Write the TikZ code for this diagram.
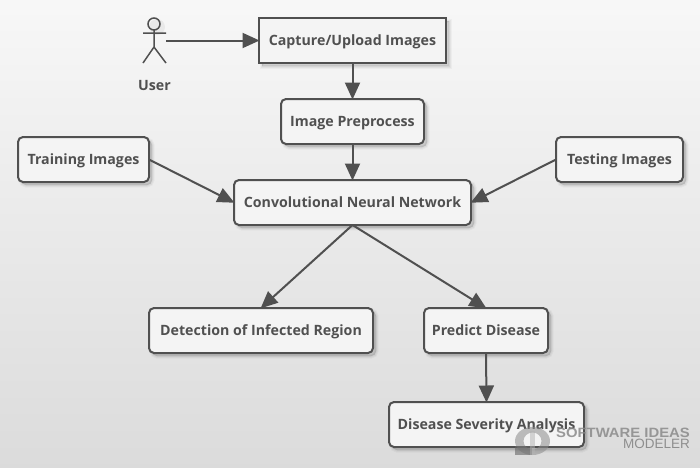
\documentclass[tikz,border=0pt]{standalone}
\usepackage{fontspec}
\setmainfont{Open Sans}
\newfontfamily\wmbold[FakeStretch=1.1]{Liberation Sans Bold}
\newfontfamily\wmreg{Liberation Sans}
\usetikzlibrary{arrows.meta,shadows}
\definecolor{ink}{HTML}{505050}
\definecolor{boxfill}{HTML}{F4F4F4}
\definecolor{wm}{HTML}{8A8A8A}
\tikzset{
  softshadow/.style={
    general shadow={fill=black,draw=black,line width=5pt,opacity=.03,shadow xshift=3pt,shadow yshift=-3pt},
    general shadow={fill=black,draw=black,line width=3pt,opacity=.04,shadow xshift=3pt,shadow yshift=-3pt},
    general shadow={fill=black,draw=black,line width=1pt,opacity=.05,shadow xshift=3pt,shadow yshift=-3pt}},
  boxbase/.style={softshadow,draw=ink,line width=2pt,fill=boxfill,text=ink,font=\bfseries\fontsize{14.2}{16}\selectfont,inner sep=0pt,outer sep=0pt,minimum height=45pt,anchor=center,text height=10pt,text depth=0pt},
  plainbox/.style={boxbase,sharp corners},
  roundbox/.style={boxbase,rounded corners=5pt},
  link/.style={draw=ink,line width=2pt,-{Triangle[length=17pt,width=15pt]},shorten >=-0.5pt},
  stick/.style={draw=ink,line width=1.5pt},
  lab/.style={text=ink,font=\bfseries\fontsize{14.2}{16}\selectfont,inner sep=0pt,text height=10pt,text depth=0pt}
}
\begin{document}
\begin{tikzpicture}[x=1pt,y=-1pt]
\useasboundingbox (0,0) rectangle (700,467);
\shade[top color=white!97!black,bottom color=white!86!black] (0,0) rectangle (700,467);
% actor
\fill[black,opacity=.05] (157,27) circle (8);
\draw[stick] (154,24) circle (6);
\draw[stick] (154,30) -- (154,47) (143,33) -- (166,33) (154,47) -- (143,63) (154,47) -- (166,63);
\node[minimum width=23pt,minimum height=45pt,inner sep=0pt,outer sep=0pt] (user) at (154.5,40.5) {};
\node[lab] (userlab) at (154.5,85.5) {User};
% nodes
\node[plainbox,minimum width=187pt] (capture) at (352.5,40.5) {Capture/Upload Images};
\node[roundbox,minimum width=143pt] (prep) at (352.5,121.5) {Image Preprocess};
\node[roundbox,minimum width=237pt] (cnn) at (352.5,202.5) {Convolutional Neural Network};
\node[roundbox,minimum width=131pt] (train) at (83.5,159.5) {Training Images};
\node[roundbox,minimum width=127pt] (test) at (619.5,159.5) {Testing Images};
\node[roundbox,minimum width=224pt] (detect) at (261,330.5) {Detection of Infected Region};
\node[roundbox,minimum width=124pt] (predict) at (486,330.5) {Predict Disease};
\node[roundbox,minimum width=195pt] (severity) at (486.5,424.5) {Disease Severity Analysis};
% connectors
\draw[link] (user.east) -- (capture.west);
\draw[link] (capture.south) -- (prep.north);
\draw[link] (prep.south) -- (cnn.north);
\draw[link] (train.east) -- (cnn.west);
\draw[link] (test.west) -- (cnn.east);
\draw[link] (cnn.south) -- (detect.north);
\draw[link] (cnn.south) -- (predict.north);
\draw[link] (predict.south) -- (severity.north);
% watermark logo
\begin{scope}
\fill[black!45,opacity=.55,even odd rule] (532.5,441) ellipse [x radius=17.5,y radius=14] (532.5,441) ellipse [x radius=9,y radius=8.5];
\fill[black!60,opacity=.6] (515,446) rectangle (532,455);
\fill[black!30,opacity=.5] (530,431) rectangle (535,455);
\end{scope}
\node[anchor=east,inner sep=0pt,opacity=.85,text=wm,font=\wmbold\fontsize{13.5}{14}\selectfont,text height=9.5pt,text depth=0pt] (wmone) at (690,432.5) {SOFTWARE IDEAS};
\node[anchor=east,inner sep=0pt,opacity=.95,text=wm,font=\wmreg\fontsize{13.5}{14}\selectfont,text height=9.5pt,text depth=0pt] (wmtwo) at (690,443.5) {MODELER};
\end{tikzpicture}
\end{document}
